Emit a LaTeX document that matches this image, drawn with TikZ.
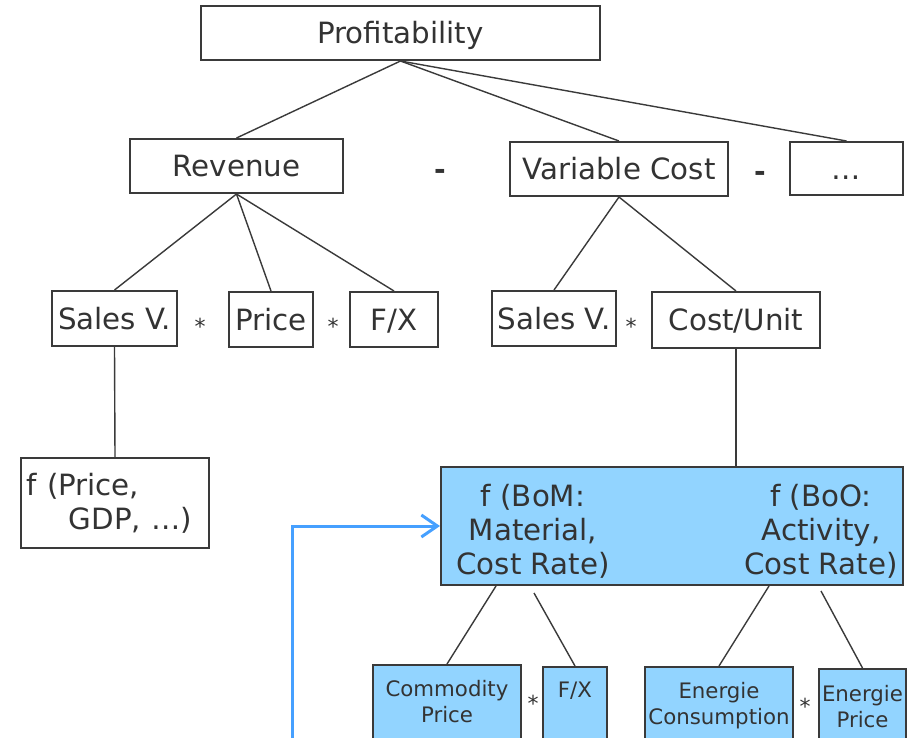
\documentclass[tikz,border=0pt]{standalone}
\usepackage{fontspec}
\setmainfont{DejaVu Sans}
\usetikzlibrary{arrows.meta,calc}
\definecolor{ink}{RGB}{51,51,51}
\definecolor{edge}{RGB}{58,58,58}
\definecolor{bfill}{RGB}{146,212,255}
\definecolor{barrow}{RGB}{70,160,255}
\begin{document}
\begin{tikzpicture}[x=1pt,y=-1pt,
  box/.style={draw=edge, line width=2pt, fill=white, inner sep=0pt, text=ink,
    font=\fontsize{29.3}{35}\selectfont, text height=21.4pt, text depth=0pt},
  lowbox/.style={draw=edge, line width=2pt, fill=bfill, inner sep=0pt},
  conn/.style={draw=edge, line width=1.4pt},
  txt/.style={text=ink, inner sep=0pt, align=center},
  bigtxt/.style={txt, font=\fontsize{29.3}{34}\selectfont},
  smalltxt/.style={txt, font=\fontsize{21.3}{26}\selectfont, anchor=north},
  op/.style={text=ink, inner sep=0pt, font=\fontsize{22}{24}\selectfont},
  minus/.style={text=ink, inner sep=0pt, font=\bfseries\fontsize{28}{30}\selectfont},
  bluearrow/.style={draw=barrow, line width=3pt, -{Straight Barb[length=16pt,width=22pt]}}
]
\useasboundingbox (0,0) rectangle (908,737);
\fill[white] (0,0) rectangle (908,737);

% top levels
\node[box, minimum width=399pt, minimum height=54pt] (prof) at (400.5,33) {Profitability};
\node[box, minimum width=213pt, minimum height=54pt] (rev) at (236.5,166) {Revenue};
\node[box, minimum width=218pt, minimum height=54pt] (vc) at (619,169) {Variable Cost};
\node[box, minimum width=113pt, minimum height=53pt] (etc) at (846.5,168.5) {…};
\node[minus] (m1) at (440,174) {-};
\node[minus] (m2) at (760,176) {-};

% third level
\node[box, minimum width=125pt, minimum height=55pt] (sv1) at (114.5,318.5) {Sales V.};
\node[box, minimum width=84pt, minimum height=55pt] (pr) at (271,319.5) {Price};
\node[box, minimum width=88pt, minimum height=55pt] (fx1) at (394,319.5) {F/X};
\node[op] (s1) at (200,326) {*};
\node[op] (s2) at (333,326) {*};
\node[box, minimum width=124pt, minimum height=55pt] (sv2) at (554,318.5) {Sales V.};
\node[box, minimum width=168pt, minimum height=56pt] (cu) at (736,320) {Cost/Unit};
\node[op] (s3) at (631,326) {*};

% f box
\node[draw=edge, line width=2pt, fill=white, inner xsep=6pt, inner ysep=0pt, text=ink,
  font=\fontsize{29.3}{35}\selectfont, align=left, text width=176pt,
  minimum height=90pt] (fb) at (115,503) {\raisebox{-3pt}{f (Price,}\\\hspace*{42pt}\raisebox{-2pt}{GDP, …)}};

% blue box
\node[lowbox, minimum width=462pt, minimum height=118pt] (bom) at (672,526) {};
\node[bigtxt] (bomtxt) at (533,531) {f (BoM:\\Material,\\Cost Rate)};
\node[bigtxt] (bootxt) at (821,531) {f (BoO:\\Activity,\\Cost Rate)};

% connectors
\draw[conn] (prof.south) -- (rev.north);
\draw[conn] (prof.south) -- (vc.north);
\draw[conn] (prof.south) -- (etc.north);
\draw[conn] (rev.south) -- (sv1.north);
\draw[conn] (rev.south) -- (pr.north);
\draw[conn] (rev.south) -- (fx1.north);
\draw[conn] (vc.south) -- (sv2.north);
\draw[conn] (vc.south) -- (cu.north);
\draw[conn] (sv1.south) -- (fb.north);
\draw[conn] (cu.south) -- (cu.south |- bom.north);

\begin{scope}
\clip (0,0) rectangle (908,737);
\node[lowbox, minimum width=148pt, minimum height=100pt, anchor=north] (cp) at (447,664) {};
\node[lowbox, minimum width=64pt, minimum height=100pt, anchor=north] (fx2) at (575,666) {};
\node[lowbox, minimum width=148pt, minimum height=100pt, anchor=north] (ec) at (719,666) {};
\node[lowbox, minimum width=87pt, minimum height=100pt, anchor=north] (ep) at (862.5,668) {};
\node[smalltxt] (cptxt) at (447,680) {Commodity\\Price};
\node[smalltxt] (fxtxt) at (575,682) {F/X};
\node[smalltxt] (ectxt) at (719,682) {Energie\\Consumption};
\node[smalltxt] (eptxt) at (862.5,685) {Energie\\Price};
\node[op] (s4) at (533,703) {*};
\node[op] (s5) at (805,706) {*};
\coordinate (l1) at ($(bom.south west)+(56,0)$);
\coordinate (l2) at ($(bom.south west)+(94,7)$);
\coordinate (l3) at ($(bom.south west)+(329,0)$);
\coordinate (l4) at ($(bom.south west)+(381,5)$);
\draw[conn] (l1) -- (cp.north);
\draw[conn] (l2) -- (fx2.north);
\draw[conn] (l3) -- (ec.north);
\draw[conn] (l4) -- (ep.north);
\coordinate (arrstart) at (292,760);
\draw[bluearrow] (arrstart) |- (bom.west);
\end{scope}
\end{tikzpicture}
\end{document}
